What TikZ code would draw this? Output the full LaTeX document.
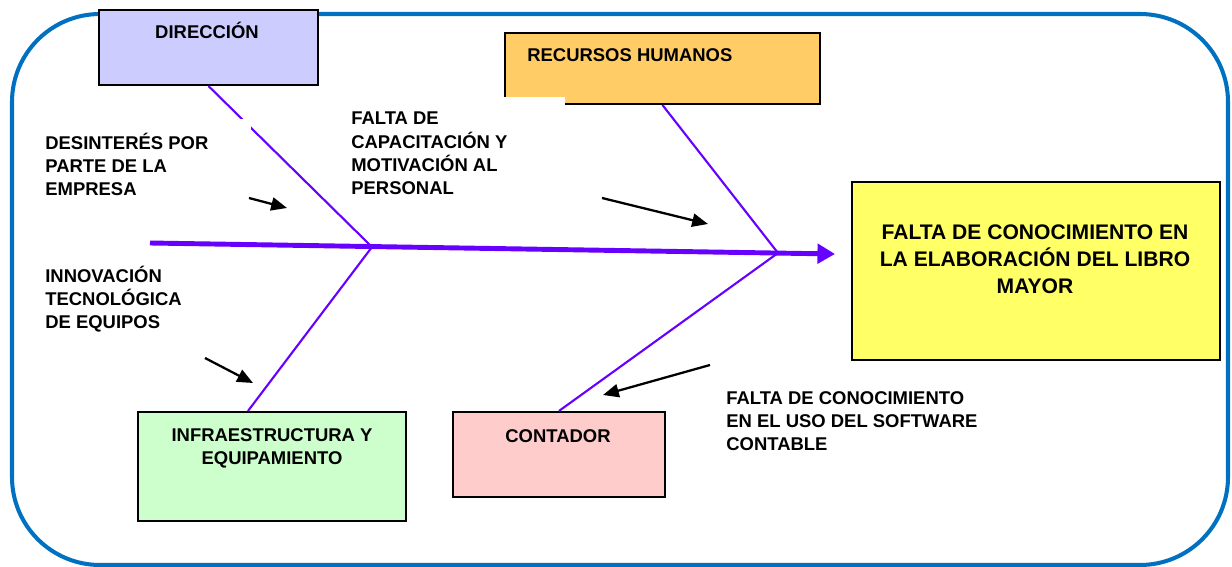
\documentclass[tikz,border=0pt]{standalone}
\usepackage{fontspec}
\setmainfont{Liberation Sans}
\usetikzlibrary{arrows.meta,positioning}
\definecolor{marco}{RGB}{0,112,192}
\definecolor{espina}{RGB}{102,0,255}
\definecolor{dirfill}{RGB}{204,204,255}
\definecolor{rhfill}{RGB}{255,204,102}
\definecolor{efecfill}{RGB}{255,255,102}
\definecolor{infrafill}{RGB}{204,255,204}
\definecolor{contfill}{RGB}{255,204,204}
\tikzset{
  causebox/.style={draw=black, line width=1.2pt, inner sep=0pt},
  boxtext/.style={font=\bfseries\fontsize{10.5}{13.3}\selectfont, align=center, inner sep=0pt, anchor=base},
  cause/.style={font=\bfseries\fontsize{10.5}{13.3}\selectfont, align=left, inner sep=0pt, anchor=base west},
  spine/.style={draw=espina, line width=2.8pt, -{Triangle[length=10pt,width=11pt]}},
  bone/.style={draw=espina, line width=1.2pt},
  flecha/.style={-{Triangle[length=9pt,width=7.5pt]}, line width=1.3pt},
}
\begin{document}
\begin{tikzpicture}[x=0.02cm,y=-0.02cm]
  \useasboundingbox (0,0) rectangle (1232,567);
  \draw[marco, line width=2.3pt, rounded corners=1.76cm] (12,14) rectangle (1228,565);

  % espina central
  \coordinate (cola) at (150,243);
  \coordinate (j1) at (372,247);
  \coordinate (j2) at (778,253);
  \coordinate (punta) at (835,254);

  % cajas
  \node[causebox, fill=dirfill, minimum width=4.38cm, minimum height=1.5cm] (dir) at (208.5,47.5) {};
  \node[boxtext] (dirtxt) at (207,39) {DIRECCIÓN};
  \node[causebox, fill=rhfill, minimum width=6.3cm, minimum height=1.42cm] (rh) at (662.5,68.5) {};
  \node[boxtext, anchor=base west] (rhtxt) at (527,62) {RECURSOS HUMANOS};
  \fill[white] (503,97) rectangle (565,107);
  \node[causebox, fill=efecfill, minimum width=7.36cm, minimum height=3.56cm] (efecto) at (1036,271) {};
  \node[boxtext, font=\bfseries\fontsize{12}{15.4}\selectfont] (efectotxt) at (1035,294) {FALTA DE CONOCIMIENTO EN\\LA ELABORACIÓN DEL LIBRO\\MAYOR};
  \node[causebox, fill=infrafill, minimum width=5.36cm, minimum height=2.18cm] (infra) at (272,466.5) {};
  \node[boxtext] (infratxt) at (272,465) {INFRAESTRUCTURA Y\\EQUIPAMIENTO};
  \node[causebox, fill=contfill, minimum width=4.24cm, minimum height=1.7cm] (cont) at (559,454.5) {};
  \node[boxtext] (conttxt) at (558,443) {CONTADOR};

  \draw[spine] (cola) -- (punta);
  \draw[bone] (dir.south) -- (j1);
  \fill[white] (240,119) rectangle (251,129);
  \draw[bone] (rh.south) -- (j2);
  \draw[bone] ([xshift=-0.48cm]infra.north) -- (j1);
  \draw[bone] (cont.north) -- (j2);

  % causas
  \node[cause] (desint) at (45,196) {DESINTERÉS POR\\PARTE DE LA\\EMPRESA};
  \node[cause] (capac) at (351,195) {FALTA DE\\CAPACITACIÓN Y\\MOTIVACIÓN AL\\PERSONAL};
  \node[cause] (innov) at (45,329) {INNOVACIÓN\\TECNOLÓGICA\\DE EQUIPOS};
  \node[cause] (soft) at (726,451) {FALTA DE CONOCIMIENTO\\EN EL USO DEL SOFTWARE\\CONTABLE};

  \coordinate (a1) at (249,198);
  \coordinate (b1) at (287,208);
  \coordinate (a2) at (602,198);
  \coordinate (b2) at (708,224);
  \coordinate (a3) at (205,358);
  \coordinate (b3) at (253,383);
  \coordinate (a4) at (710,365);
  \coordinate (b4) at (603,395);
  \draw[flecha] (a1) -- (b1);
  \draw[flecha] (a2) -- (b2);
  \draw[flecha] (a3) -- (b3);
  \draw[flecha] (a4) -- (b4);
\end{tikzpicture}
\end{document}
